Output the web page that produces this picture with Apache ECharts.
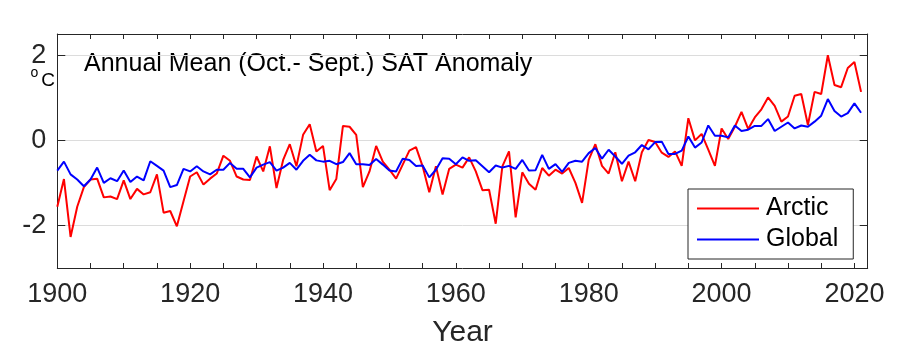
<!DOCTYPE html>
<html>
<head>
<meta charset="utf-8">
<script src="https://cdn.jsdelivr.net/npm/echarts@6/dist/echarts.min.js"></script>
<style>
html,body{margin:0;padding:0;background:#fff;}
#chart{width:914px;height:357px;}
</style>
</head>
<body>
<div id="chart"></div>
<script>
const startYear = 1900;
const arctic = [
-1.56,-0.91,-2.27,-1.56,-1.10,-0.92,-0.90,-1.34,-1.32,-1.38,
-0.94,-1.38,-1.14,-1.27,-1.22,-0.80,-1.70,-1.66,-2.02,-1.43,
-0.85,-0.75,-1.04,-0.90,-0.78,-0.36,-0.48,-0.85,-0.92,-0.93,
-0.38,-0.73,-0.14,-1.12,-0.46,-0.09,-0.61,0.13,0.38,-0.26,
-0.13,-1.17,-0.91,0.34,0.32,0.13,-1.10,-0.73,-0.13,-0.50,
-0.69,-0.90,-0.57,-0.24,-0.16,-0.61,-1.22,-0.61,-1.27,-0.67,
-0.57,-0.64,-0.40,-0.73,-1.17,-1.16,-1.96,-0.61,-0.26,-1.81,
-0.75,-1.02,-1.16,-0.65,-0.83,-0.69,-0.78,-0.65,-1.00,-1.47,
-0.46,-0.09,-0.60,-0.78,-0.28,-0.96,-0.50,-0.96,-0.28,0.01,
-0.04,-0.29,-0.39,-0.26,-0.60,0.52,0.00,0.15,-0.22,-0.60,
0.28,0.03,0.32,0.67,0.27,0.54,0.73,1.01,0.81,0.44,
0.56,1.05,1.09,0.36,1.14,1.09,2.00,1.30,1.25,1.70,
1.84,1.14
];
const globalT = [
-0.71,-0.50,-0.80,-0.92,-1.08,-0.92,-0.64,-1.00,-0.89,-0.96,
-0.71,-0.98,-0.85,-0.94,-0.49,-0.60,-0.71,-1.10,-1.05,-0.67,
-0.73,-0.61,-0.73,-0.80,-0.69,-0.69,-0.53,-0.67,-0.67,-0.87,
-0.64,-0.57,-0.51,-0.71,-0.64,-0.53,-0.69,-0.48,-0.34,-0.47,
-0.50,-0.48,-0.56,-0.51,-0.30,-0.56,-0.56,-0.58,-0.44,-0.57,
-0.71,-0.73,-0.43,-0.46,-0.60,-0.59,-0.87,-0.69,-0.42,-0.43,
-0.56,-0.40,-0.48,-0.47,-0.61,-0.75,-0.59,-0.64,-0.60,-0.67,
-0.46,-0.71,-0.70,-0.34,-0.67,-0.56,-0.74,-0.53,-0.48,-0.50,
-0.30,-0.18,-0.43,-0.22,-0.38,-0.55,-0.36,-0.28,-0.11,-0.21,
-0.04,-0.03,-0.32,-0.32,-0.24,0.09,-0.17,-0.05,0.35,0.11,
0.11,0.07,0.35,0.22,0.25,0.34,0.34,0.50,0.22,0.32,
0.42,0.28,0.35,0.32,0.44,0.58,0.97,0.69,0.56,0.64,
0.87,0.65
];
const xTickValues = [1900,1905,1910,1915,1920,1925,1930,1935,1940,1945,1950,1955,1960,1965,1970,1975,1980,1985,1990,1995,2000,2005,2010,2015,2020];
const xLabelValues = [1900,1920,1940,1960,1980,2000,2020];
const yTickValues = [-2,0,2];
const seriesNames = ['Arctic','Global'];
const titleText = 'Annual Mean (Oct.- Sept.) SAT Anomaly';

const years = arctic.map((_, i) => startYear + i);
const axisColor = '#262626';
const font = '"Liberation Sans", Arial, Helvetica, sans-serif';

const chart = echarts.init(document.getElementById('chart'), null, {renderer:'canvas'});
const xBase = {
  type:'value', min:1900, max:2022,
  axisLine:{show:true, onZero:false, lineStyle:{color:axisColor, width:1}},
  splitLine:{show:false}
};
const yBase = {
  type:'value', min:-3, max:2.5,
  axisLine:{show:true, onZero:false, lineStyle:{color:axisColor, width:1}}
};
chart.setOption({
  animation:false,
  backgroundColor:'#fff',
  grid:{left:57.3, right:46.3, top:34, bottom:89, containLabel:false},
  xAxis:[
    Object.assign({}, xBase, {
      position:'bottom',
      name:'Year', nameLocation:'middle', nameGap:50,
      nameTextStyle:{fontSize:30, color:axisColor, fontFamily:font},
      axisTick:{show:true, inside:true, length:5, customValues:xTickValues, lineStyle:{color:axisColor}},
      axisLabel:{show:true, customValues:xLabelValues, fontSize:27, color:axisColor, fontFamily:font, margin:13,
        formatter:(v)=>String(v)}
    }),
    Object.assign({}, xBase, {
      position:'top',
      axisTick:{show:true, inside:true, length:5, customValues:xTickValues, lineStyle:{color:axisColor}},
      axisLabel:{show:false}
    })
  ],
  yAxis:[
    Object.assign({}, yBase, {
      position:'left',
      axisTick:{show:true, inside:true, length:8, customValues:yTickValues, lineStyle:{color:axisColor}},
      axisLabel:{show:true, customValues:yTickValues, fontSize:27, color:axisColor, fontFamily:font, margin:11,
        formatter:(v)=>String(v)},
      splitLine:{show:true, lineStyle:{color:'#dcdcdc', width:1}}
    }),
    Object.assign({}, yBase, {
      position:'right',
      axisTick:{show:true, inside:true, length:8, customValues:yTickValues, lineStyle:{color:axisColor}},
      axisLabel:{show:false},
      splitLine:{show:false}
    })
  ],
  legend:{
    show:true, orient:'vertical', left:688, top:189,
    data:seriesNames.map(n => ({name:n, icon:'rect'})),
    padding:[7,15,7,9], itemGap:6, itemWidth:62, itemHeight:2,
    borderColor:axisColor, borderWidth:1, backgroundColor:'#fff',
    textStyle:{fontSize:25, color:'#000', fontFamily:font, padding:[0,0,0,2]}
  },
  graphic:[
    {type:'text', left:84, top:52, style:{text:titleText, fontSize:25, fill:'#000', fontFamily:font}},
    {type:'text', x:34.5, y:73, style:{text:'o', fontSize:14, fill:'#000', fontFamily:font, align:'center', verticalAlign:'middle'}},
    {type:'text', x:48, y:81, style:{text:'C', fontSize:19, fill:'#000', fontFamily:font, align:'center', verticalAlign:'middle'}}
  ],
  series:[
    {name:seriesNames[0], type:'line', symbol:'none', data:years.map((y,i)=>[y, arctic[i]]),
     lineStyle:{color:'#ff0000', width:2}, itemStyle:{color:'#ff0000'}, z:2},
    {name:seriesNames[1], type:'line', symbol:'none', data:years.map((y,i)=>[y, globalT[i]]),
     lineStyle:{color:'#0000ff', width:2}, itemStyle:{color:'#0000ff'}, z:3}
  ]
});
</script>
</body>
</html>
